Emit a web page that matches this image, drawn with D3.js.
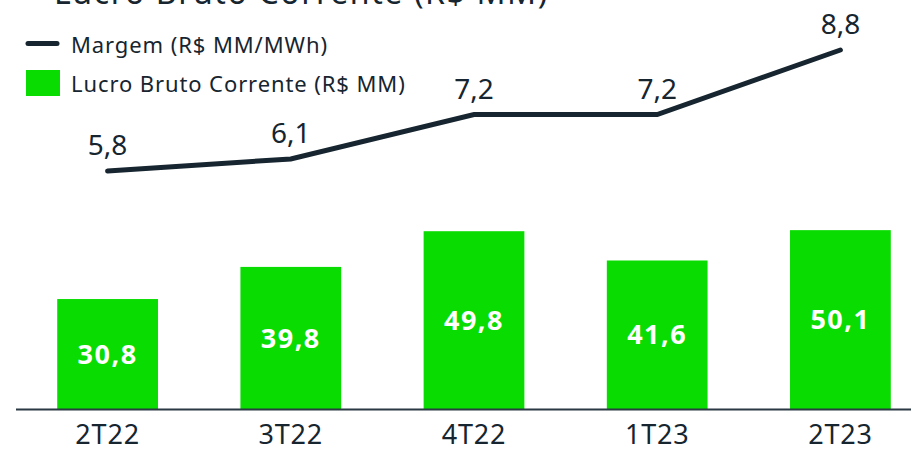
<!DOCTYPE html>
<html>
<head>
<meta charset="utf-8">
<script src="https://cdn.jsdelivr.net/npm/d3@7.9.0/dist/d3.min.js"></script>
<style>
  html, body { margin: 0; padding: 0; background: #fff; }
  svg { display: block; font-family: 'Noto Sans', 'DejaVu Sans', sans-serif; }
</style>
</head>
<body>
<div id="chart"></div>
<script>
// chart data
const quarters = ['2T22', '3T22', '4T22', '1T23', '2T23'];
const lucro = [30.8, 39.8, 49.8, 41.6, 50.1];   // R$ MM
const margem = [5.8, 6.1, 7.2, 7.2, 8.8];       // R$ MM/MWh

const width = 911;
const height = 450;
const dark = '#16252f';
const green = '#08dc00';
const fmt = (v) => v.toFixed(1).replace('.', ',');

const svg = d3.select('#chart')
  .append('svg')
  .attr('width', width)
  .attr('height', height);

// x positions of categories
const xScale = d3.scaleBand()
  .domain(quarters)
  .range([16, 932])
  .paddingInner(0.45)
  .paddingOuter(0.225);

const yBar = d3.scaleLinear().domain([0, 50]).range([409, 230.5]);
const yLine = d3.scaleLinear().domain([5.8, 8.8]).range([171, 50]);

// title, cut off at the top edge
svg.append('text')
  .attr('x', 54)
  .attr('y', 4)
  .attr('fill', dark)
  .style('font-size', '32px')
  .style('letter-spacing', '1.6px')
  .text('Lucro Bruto Corrente (R$ MM)');

// bars
svg.append('g')
  .selectAll('rect')
  .data(lucro)
  .join('rect')
  .attr('x', (d, i) => xScale(quarters[i]))
  .attr('y', (d) => yBar(d))
  .attr('width', xScale.bandwidth())
  .attr('height', (d) => yBar(0) - yBar(d))
  .attr('fill', green);

// bar labels (centred in bar)
svg.append('g')
  .selectAll('text')
  .data(lucro)
  .join('text')
  .attr('x', (d, i) => xScale(quarters[i]) + xScale.bandwidth() / 2)
  .attr('y', (d) => (yBar(d) + yBar(0)) / 2)
  .attr('dy', '0.36em')
  .attr('text-anchor', 'middle')
  .attr('fill', '#fff')
  .style('font-size', '27px')
  .style('font-weight', 'bold')
  .style('letter-spacing', '1.5px')
  .text(fmt);

// baseline axis
const xAxis = d3.axisBottom(xScale).tickSize(0).tickPadding(16);
const axisG = svg.append('g')
  .attr('transform', `translate(0, ${yBar(0)})`)
  .call(xAxis);
axisG.select('.domain')
  .attr('d', `M16,0.5H${width}`)
  .attr('stroke', '#2a3943')
  .attr('stroke-width', 2);
axisG.selectAll('text')
  .attr('fill', dark)
  .style('font-size', '27px')
  .style('letter-spacing', '0.8px')
  .style('font-family', "'Noto Sans', 'DejaVu Sans', sans-serif");

// margin line
const line = d3.line()
  .x((d, i) => xScale(quarters[i]) + xScale.bandwidth() / 2)
  .y((d) => yLine(d));

svg.append('path')
  .datum(margem)
  .attr('d', line)
  .attr('fill', 'none')
  .attr('stroke', dark)
  .attr('stroke-width', 5)
  .attr('stroke-linecap', 'round');

svg.append('g')
  .selectAll('text')
  .data(margem)
  .join('text')
  .attr('x', (d, i) => xScale(quarters[i]) + xScale.bandwidth() / 2)
  .attr('y', (d) => yLine(d) - 16)
  .attr('text-anchor', 'middle')
  .attr('fill', dark)
  .style('font-size', '28px')
  .text(fmt);

// legend
const legend = svg.append('g');
legend.append('line')
  .attr('x1', 28).attr('x2', 57)
  .attr('y1', 43.5).attr('y2', 43.5)
  .attr('stroke', dark)
  .attr('stroke-width', 5)
  .attr('stroke-linecap', 'round');
legend.append('text')
  .attr('x', 71).attr('y', 53)
  .attr('fill', dark)
  .style('font-size', '22px')
  .style('letter-spacing', '0.9px')
  .text('Margem (R$ MM/MWh)');
legend.append('rect')
  .attr('x', 26).attr('y', 70)
  .attr('width', 34).attr('height', 26)
  .attr('fill', green);
legend.append('text')
  .attr('x', 71).attr('y', 92)
  .attr('fill', dark)
  .style('font-size', '22px')
  .style('letter-spacing', '0.9px')
  .text('Lucro Bruto Corrente (R$ MM)');
</script>
</body>
</html>
